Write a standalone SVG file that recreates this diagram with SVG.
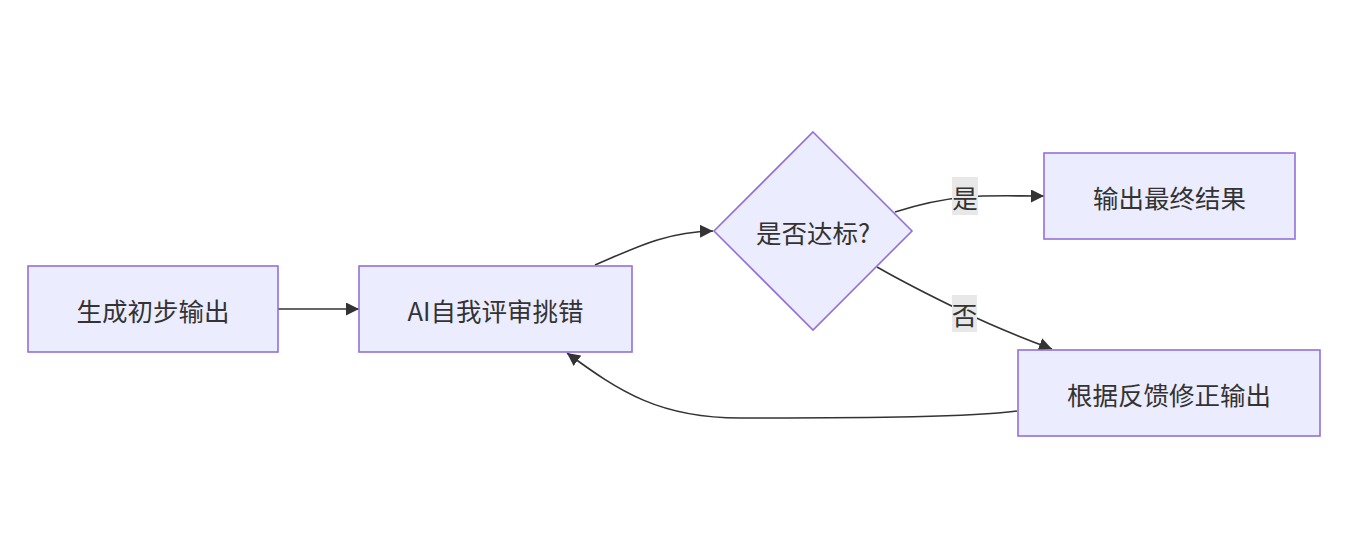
<svg xmlns="http://www.w3.org/2000/svg" width="1346" height="544" viewBox="0 0 1346 544">
<style>
.node rect,.node polygon{fill:#ECECFF;stroke:#9370DB;stroke-width:1.6}
.t{font-family:"Noto Sans CJK SC","Liberation Sans",sans-serif;font-size:25.5px;fill:#333;text-anchor:middle;dominant-baseline:central}
.edge{fill:none;stroke:#333;stroke-width:1.6}
.lbl{fill:#e8e8e8}
</style>
<defs>
<marker id="arr" viewBox="0 0 10 10" refX="10" refY="5" markerUnits="userSpaceOnUse" markerWidth="13" markerHeight="13" orient="auto">
<path d="M0,0 L10,5 L0,10 z" fill="#333"/>
</marker>
</defs>
<rect width="1346" height="544" fill="#fff"/>
<g id="edges">
<path class="edge" d="M278,309 L359,309" marker-end="url(#arr)"/>
<path class="edge" d="M595,265 C635,248 665,232 713,231" marker-end="url(#arr)"/>
<path class="edge" d="M895,212 C920,204 945,199 965,197 C990,195 1010,196 1044,196" marker-end="url(#arr)"/>
<path class="edge" d="M877,267 C905,283 935,298 964,312 C990,325 1020,337 1052,349" marker-end="url(#arr)"/>
<path class="edge" d="M1017,411 C970,417 880,418 740,418 C660,418 620,392 567,353" marker-end="url(#arr)"/>
<rect class="lbl" x="952" y="177" width="26" height="38"/>
<text class="t" x="965" y="196">是</text>
<rect class="lbl" x="952" y="295" width="25" height="37"/>
<text class="t" x="964.5" y="313">否</text>
</g>
<g id="nodeA" class="node">
<rect x="28" y="266" width="250" height="86"/>
<text class="t" x="153" y="309">生成初步输出</text>
</g>
<g id="nodeB" class="node">
<rect x="359" y="266" width="273" height="86"/>
<text class="t" x="495.5" y="309">AI自我评审挑错</text>
</g>
<g id="nodeC" class="node">
<polygon points="813,132 912,231 813,330 714,231"/>
<text class="t" x="813" y="231">是否达标?</text>
</g>
<g id="nodeD" class="node">
<rect x="1044" y="153" width="251" height="86"/>
<text class="t" x="1169.5" y="196">输出最终结果</text>
</g>
<g id="nodeE" class="node">
<rect x="1018" y="350" width="302" height="86"/>
<text class="t" x="1169" y="393">根据反馈修正输出</text>
</g>
</svg>
